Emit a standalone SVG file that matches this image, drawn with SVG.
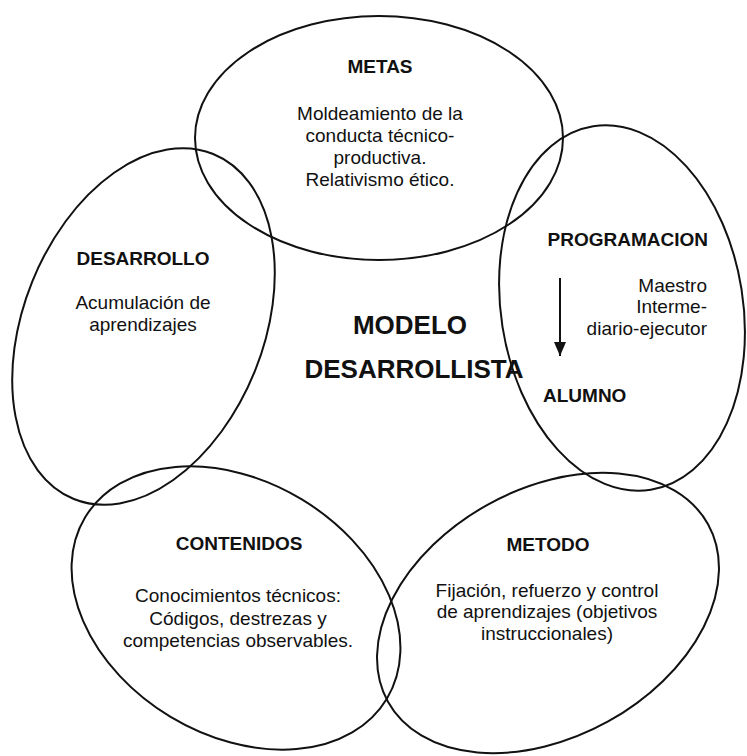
<svg xmlns="http://www.w3.org/2000/svg" width="747" height="756" viewBox="0 0 747 756">
<defs>
<style>
.ell{fill:none;stroke:#111;stroke-width:2}
text{font-family:"Liberation Sans",Arial,sans-serif;fill:#111;font-size:19px}
.h{font-weight:bold}
.c{text-anchor:middle}
.e{text-anchor:end}
.big{font-size:26px;font-weight:bold;text-anchor:middle}
</style>
<marker id="ah" viewBox="0 0 14 12" refX="14" refY="6" markerWidth="14" markerHeight="12" markerUnits="userSpaceOnUse" orient="auto">
<path d="M0,0 L14,6 L0,12 Z" fill="#111"/>
</marker>
</defs>
<rect width="747" height="756" fill="#fff"/>
<g id="metas">
<ellipse class="ell" cx="379" cy="138" rx="184" ry="122"/>
<text class="h c" x="380" y="73">METAS</text>
<text class="c" x="380" y="120">Moldeamiento de la</text>
<text class="c" x="380" y="142">conducta técnico-</text>
<text class="c" x="380" y="164">productiva.</text>
<text class="c" x="380" y="186">Relativismo ético.</text>
</g>
<g id="desarrollo">
<ellipse class="ell" cx="0" cy="0" rx="120" ry="186" transform="translate(143.5 326.5) rotate(22)"/>
<text class="h c" x="143" y="265">DESARROLLO</text>
<text class="c" x="143" y="309">Acumulación de</text>
<text class="c" x="143" y="331">aprendizajes</text>
</g>
<g id="programacion">
<ellipse class="ell" cx="0" cy="0" rx="121" ry="184" transform="translate(622 308) rotate(-9)"/>
<text class="h e" x="708" y="246">PROGRAMACION</text>
<text class="e" x="707" y="292">Maestro</text>
<text class="e" x="707" y="313">Interme-</text>
<text class="e" x="707" y="335">diario-ejecutor</text>
<text class="h" x="543" y="402">ALUMNO</text>
</g>
<g id="contenidos">
<ellipse class="ell" cx="0" cy="0" rx="176" ry="127" transform="translate(236 608) rotate(31)"/>
<text class="h c" x="239" y="550">CONTENIDOS</text>
<text class="c" x="238" y="602">Conocimientos técnicos:</text>
<text class="c" x="238" y="625">Códigos, destrezas y</text>
<text class="c" x="238" y="647">competencias observables.</text>
</g>
<g id="metodo">
<ellipse class="ell" cx="0" cy="0" rx="183" ry="124" transform="translate(548 613) rotate(-29)"/>
<text class="h c" x="548" y="551">METODO</text>
<text class="c" x="547" y="597">Fijación, refuerzo y control</text>
<text class="c" x="547" y="618">de aprendizajes (objetivos</text>
<text class="c" x="547" y="640">instruccionales)</text>
</g>
<g id="center">
<text class="big" x="410" y="334">MODELO</text>
<text class="big" x="414" y="378">DESARROLLISTA</text>
</g>
<g id="connectors">
<line x1="560" y1="278" x2="560" y2="356" stroke="#111" stroke-width="2" marker-end="url(#ah)"/>
</g>
</svg>
